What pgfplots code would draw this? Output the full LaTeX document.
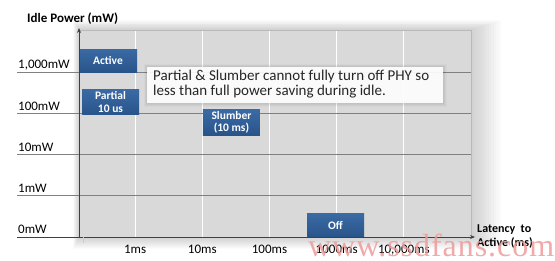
\documentclass[border=0pt]{standalone}
\usepackage{pgfplots}
\pgfplotsset{compat=1.18}
\usepackage{fontspec}
\setmainfont{Carlito}
\newfontfamily\wmfont[LetterSpace=3]{Liberation Serif}
\usetikzlibrary{arrows.meta}
\definecolor{plotbg}{HTML}{D9D9D9}
\definecolor{boxtop}{HTML}{3A6AA4}
\definecolor{boxbot}{HTML}{29548A}
\definecolor{tri}{HTML}{7EA6D6}
\definecolor{hline}{HTML}{808080}
\definecolor{axline}{HTML}{404040}
\definecolor{wm}{HTML}{EE9A9A}
\tikzset{boxstyle/.style={rectangle, minimum width=57pt, minimum height=23pt, inner sep=1.5pt,
  top color=boxtop, bottom color=boxbot, text=white, align=center, anchor=center,
  font=\bfseries\fontsize{11.5}{12.5}\selectfont,
  path picture={\fill[tri] (path picture bounding box.south west) -- ++(8pt,0) -- ++(-8pt,8pt) -- cycle;}}}
\begin{document}
\begin{tikzpicture}[x=1pt,y=1pt]
\path[use as bounding box] (0,0) rectangle (555,261);
% soft shadow
\foreach \i in {1,...,12} {
  \fill[black, opacity=0.014] (79-0.5*\i,24-\i) rectangle (471+2.5*\i,231+0.8*\i);
}
\begin{axis}[
  at={(79pt,24pt)}, anchor=south west,
  scale only axis, width=392pt, height=207pt,
  xmin=0.164, xmax=6, ymin=0, ymax=5.02,
  clip=false,
  axis background/.style={fill=plotbg},
  axis line style={draw=gray!55, line width=0.6pt},
  xtick={1,2,3,4,5},
  xticklabels={1ms,10ms,100ms,1000ms,{10,000ms}},
  xticklabel style={anchor=north, inner sep=0pt, yshift=-8pt, font=\fontsize{13}{15}\selectfont},
  xmajorgrids, major x grid style={white, line width=0.9pt},
  ytick={1,2,3,4}, yticklabels={},
  ymajorgrids, major y grid style={hline, line width=0.8pt},
  major tick length=0pt,
]
\addplot[only marks, mark=none, nodes near coords={Active},
  every node near coord/.style={boxstyle, minimum width=58pt}]
  coordinates {(0.596,4.28)};
\addplot[only marks, mark=none, nodes near coords={Partial\\10 us},
  every node near coord/.style={boxstyle, minimum height=25pt}]
  coordinates {(0.633,3.27)};
\addplot[only marks, mark=none, nodes near coords={Slumber\\(10 ms)},
  every node near coord/.style={boxstyle, minimum height=25pt}]
  coordinates {(2.434,2.776)};
\addplot[only marks, mark=none, nodes near coords={Off},
  every node near coord/.style={boxstyle}]
  coordinates {(3.983,0.279)};
\end{axis}
% left extensions of the level lines
\foreach \yy in {65.2,106.5,147.7,189} {
  \draw[hline, line width=0.8pt] (17,\yy) -- (79,\yy);
}
% axes with arrows
\draw[axline, line width=0.8pt, -{Stealth[length=5pt,width=4pt]}] (17,24) -- (475,24);
\draw[axline, line width=0.8pt, -{Stealth[length=5pt,width=4pt]}] (79,24) -- (79,233);
\draw[gray!40, line width=0.8pt] (83,24) -- (83,18);
% y level labels
\node[anchor=base west, inner sep=0pt, font=\fontsize{13}{15}\selectfont] at (18,192) {1,000mW};
\node[anchor=base west, inner sep=0pt, font=\fontsize{13}{15}\selectfont] at (18,150.7) {100mW};
\node[anchor=base west, inner sep=0pt, font=\fontsize{13}{15}\selectfont] at (18,109.5) {10mW};
\node[anchor=base west, inner sep=0pt, font=\fontsize{13}{15}\selectfont] at (18,68.2) {1mW};
\node[anchor=base west, inner sep=0pt, font=\fontsize{13}{15}\selectfont] at (18,27) {0mW};
% titles
\node[anchor=base west, inner sep=0pt, font=\bfseries\fontsize{13}{15}\selectfont] at (27,238) {Idle Power (mW)};
\node[anchor=base west, inner sep=0pt, font=\bfseries\fontsize{12}{14}\selectfont] at (477,28) {Latency\ \ to};
\node[anchor=base west, inner sep=0pt, font=\bfseries\fontsize{12}{14}\selectfont] at (477,14) {Active (ms)};
% annotation box
\foreach \i in {1,...,5} {
  \fill[black, opacity=0.02] (147-0.6*\i,158-0.8*\i) rectangle (443+0.8*\i,194+0.6*\i);
}
\fill[white, opacity=0.92] (147,158) rectangle (443,194);
\node[anchor=base west, inner sep=0pt, font=\fontsize{15}{16}\selectfont, text=black!85] at (153,180.5) {Partial \& Slumber cannot fully turn off PHY so};
\node[anchor=base west, inner sep=0pt, font=\fontsize{15}{16}\selectfont, text=black!85] at (153,165.5) {less than full power saving during idle.};
% watermark
\node[anchor=base west, inner sep=0pt, text=wm, opacity=0.85, font=\wmfont\fontsize{32}{33}\selectfont] at (308,4) {www.ssdfans.com};
\end{tikzpicture}
\end{document}
